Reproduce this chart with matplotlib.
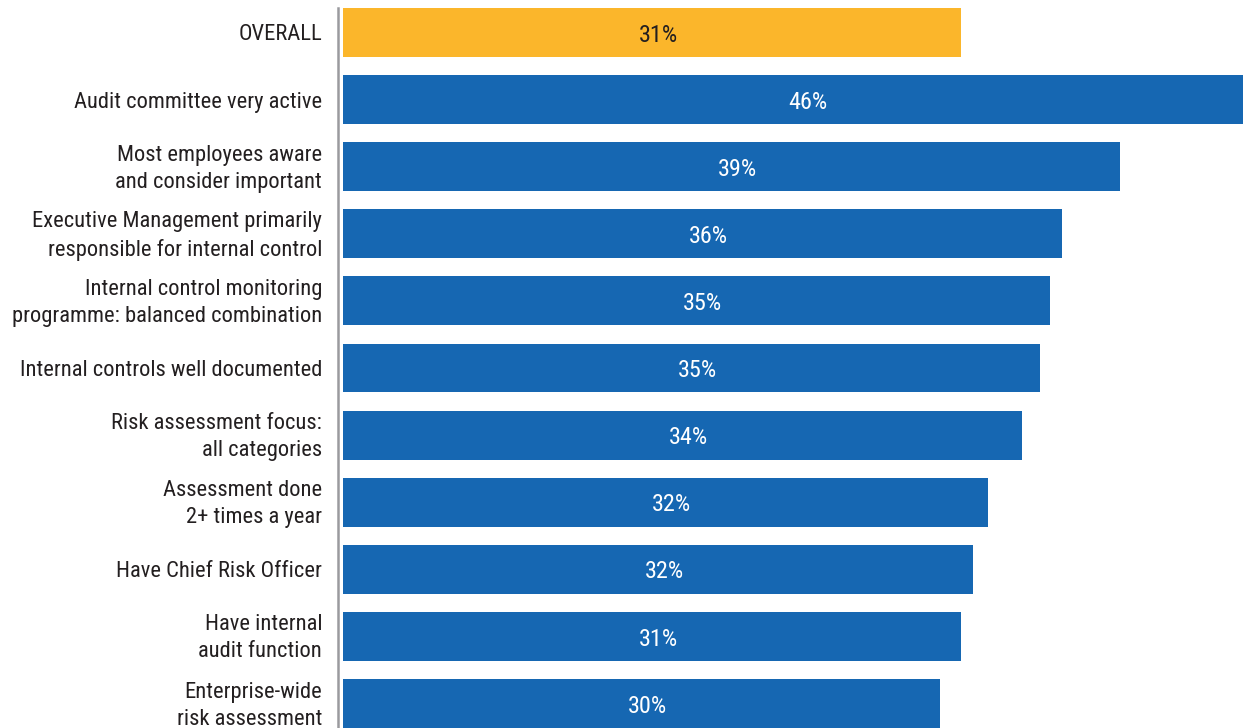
import matplotlib
matplotlib.use("Agg")
import matplotlib.pyplot as plt
from matplotlib.transforms import ScaledTranslation

plt.rcParams['font.family'] = ['Roboto Condensed', 'Archivo Narrow', 'DejaVu Sans']

categories = [
    "OVERALL",
    "Audit committee very active",
    "Most employees aware\nand consider important",
    "Executive Management primarily\nresponsible for internal control",
    "Internal control monitoring\nprogramme: balanced combination",
    "Internal controls well documented",
    "Risk assessment focus:\nall categories",
    "Assessment done\n2+ times a year",
    "Have Chief Risk Officer",
    "Have internal\naudit function",
    "Enterprise-wide\nrisk assessment",
]
values = [30.98, 46.0, 38.95, 36.04, 35.44, 34.94, 34.04, 32.33, 31.6, 30.98, 29.92]

BLUE = "#1667B2"
YELLOW = "#FBB62B"
DARK = "#231F20"

W, H = 1243, 728
fig = plt.figure(figsize=(W / 100, H / 100), dpi=100)
left_px, right_px = 338, 1243
top_px, bottom_px = 8, 728
ax = fig.add_axes([left_px / W, 1 - bottom_px / H,
                   (right_px - left_px) / W, (bottom_px - top_px) / H])

px_per_unit = 19.95
x0 = -(343 - left_px) / px_per_unit
x1 = x0 + (right_px - left_px) / px_per_unit

bar_h = 0.73
ypos = list(range(len(categories)))
colors = [YELLOW] + [BLUE] * (len(categories) - 1)
ax.barh(ypos, values, height=bar_h, color=colors, linewidth=0, clip_on=True)

ax.set_xlim(x0, x1)
ax.set_ylim(len(categories) - 1 + bar_h / 2, -bar_h / 2)

for i, v in enumerate(values):
    tc = DARK if i == 0 else "white"
    ax.text(v / 2 + 0.3, i + 0.04, f"{v:.0f}%", ha="center", va="center",
            fontsize=17.5, color=tc, clip_on=False)

ax.set_yticks(ypos)
ax.set_yticklabels(categories, fontsize=16.2, color=DARK, linespacing=1.38)
ax.tick_params(axis="y", length=0, pad=11.5)
ax.set_xticks([])

# nudge two-line labels up so they sit centred on their bars
lift = ScaledTranslation(0, 3.5 / 100, fig.dpi_scale_trans)
for lab in ax.get_yticklabels():
    if "\n" in lab.get_text():
        lab.set_transform(lab.get_transform() + lift)

for s in ["top", "right", "bottom"]:
    ax.spines[s].set_visible(False)
ax.spines["left"].set_color("#9A9A9E")
ax.spines["left"].set_linewidth(1.8)

fig.savefig("out.png", dpi=100)
